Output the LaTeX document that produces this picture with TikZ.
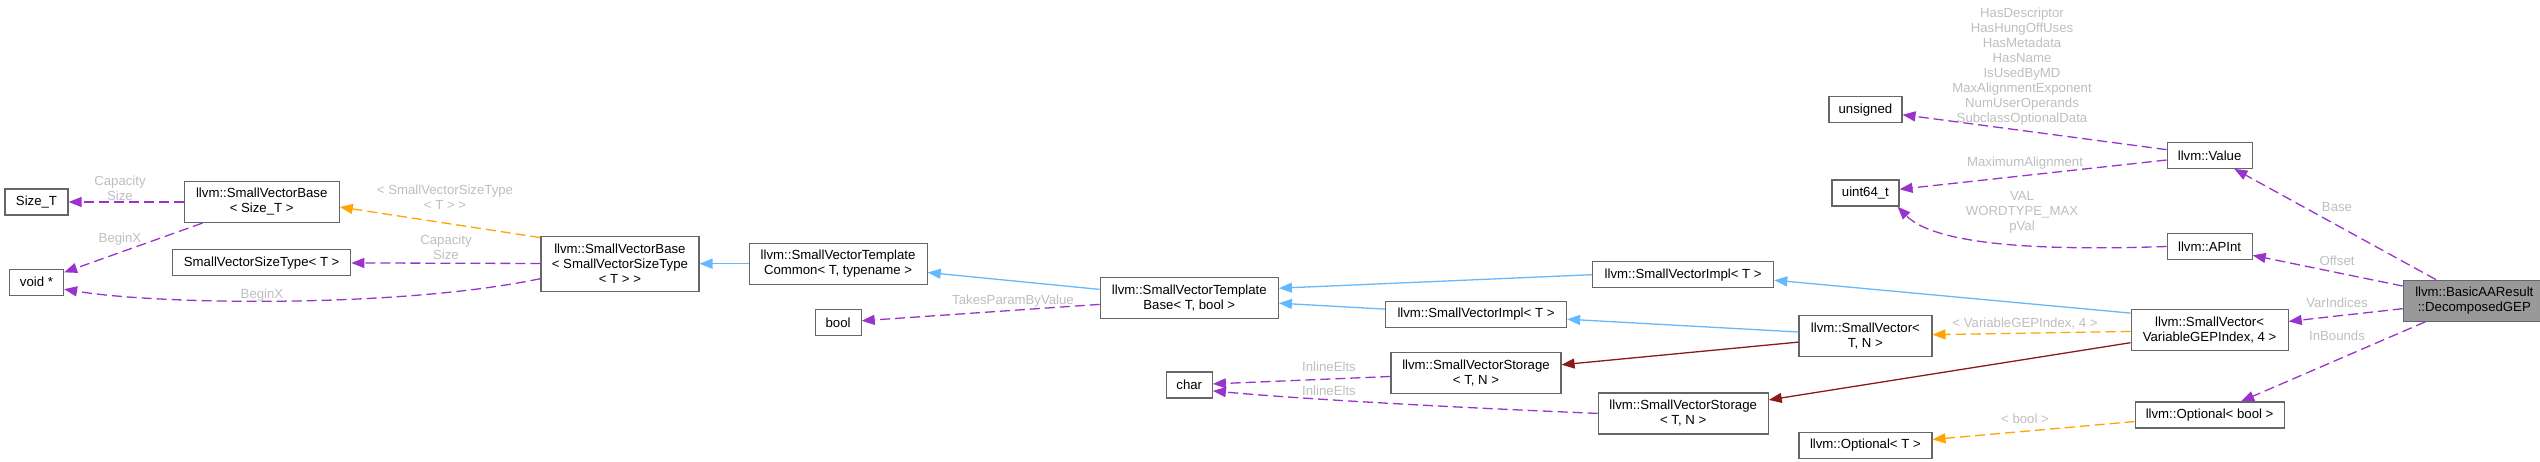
\documentclass[tikz,border=0pt]{standalone}
\usepackage{fontspec}
\setmainfont{Liberation Sans}
\usetikzlibrary{arrows.meta,positioning}
\definecolor{boxgray}{HTML}{666666}
\definecolor{lblgray}{HTML}{BEBEBE}
\definecolor{usepurple}{HTML}{9A32CD}
\definecolor{tplorange}{HTML}{FFA500}
\definecolor{pubblue}{HTML}{63B8FF}
\definecolor{privred}{HTML}{8B1A1A}
\begin{document}
\begin{tikzpicture}[
x=0.5pt,y=-0.5pt,
box/.style={draw=boxgray,line width=0.6pt,fill=white,align=center,inner sep=1pt,minimum height=13pt,font=\fontsize{6.6}{7.5}\selectfont},
two/.style={minimum height=20.5pt},
lbl/.style={text=lblgray,align=center,inner sep=0pt,font=\fontsize{6.6}{7.5}\selectfont},
usearr/.style={-{Triangle[length=6.5pt,width=5pt]},usepurple,dash pattern=on 5pt off 2.5pt,line width=0.65pt},
tplarr/.style={-{Triangle[length=6.5pt,width=5pt]},tplorange,dash pattern=on 5pt off 2.5pt,line width=0.65pt},
pubarr/.style={-{Triangle[length=6.5pt,width=5pt]},pubblue,line width=0.65pt},
privarr/.style={-{Triangle[length=6.5pt,width=5pt]},privred,line width=0.65pt}]
\useasboundingbox (0,0) rectangle (2540,461);
% left part: SmallVectorBase
\node[box,minimum width=31.5pt] (sizeT) at (36.5,202) {Size\_T};
\node[box,minimum width=27pt,below=26.5pt of sizeT] (voidp) {void *};
\node[box,two,minimum width=77.5pt,right=57.5pt of sizeT] (svbST) {llvm::SmallVectorBase\\< Size\_T >};
\node[box,minimum width=89pt,below=13pt of svbST] (svst) {SmallVectorSizeType< T >};
\node[box,minimum width=79pt,minimum height=27.5pt,right=94.5pt of svst,yshift=-0.5pt] (svbSVST) {llvm::SmallVectorBase\\< SmallVectorSizeType\\< T > >};
\node[box,two,minimum width=89pt,right=24.5pt of svbSVST] (svtc) {llvm::SmallVectorTemplate\\Common< T, typename >};
\node[box,minimum width=23pt,below=12pt of svtc] (bool) {bool};
\node[box,two,minimum width=89pt,right=86pt of svtc,yshift=-17.25pt] (svtb) {llvm::SmallVectorTemplate\\Base< T, bool >};
\node[box,minimum width=23pt,below=26pt of svtb] (char) {char};
% middle part: SmallVector
\node[box,minimum width=90.5pt,right=53pt of svtb,yshift=-8pt] (svimplB) {llvm::SmallVectorImpl< T >};
\node[box,two,minimum width=85pt,below=12pt of svimplB] (svsA) {llvm::SmallVectorStorage\\< T, N >};
\node[box,minimum width=90.5pt,right=12.5pt of svimplB,yshift=19.75pt] (svimplA) {llvm::SmallVectorImpl< T >};
\node[box,two,minimum width=85pt,below=52pt of svimplA] (svsB) {llvm::SmallVectorStorage\\< T, N >};
\node[box,two,minimum width=66.5pt,right=12pt of svimplA,yshift=-30.5pt] (svTN) {llvm::SmallVector<\\T, N >};
\node[box,minimum width=66.5pt,below=37.5pt of svTN] (optT) {llvm::Optional< T >};
\node[box,minimum width=33.5pt,above=54pt of svTN] (uint64) {uint64\_t};
\node[box,minimum width=36.5pt,above=28pt of uint64] (unsigned) {unsigned};
% right part: DecomposedGEP
\node[box,two,minimum width=78.5pt,right=99pt of svTN,yshift=2.75pt] (svVGI) {llvm::SmallVector<\\VariableGEPIndex, 4 >};
\node[box,minimum width=42.5pt,above=24.5pt of svVGI] (apint) {llvm::APInt};
\node[box,minimum width=42.5pt,above=32pt of apint] (value) {llvm::Value};
\node[box,minimum width=74.5pt,below=25pt of svVGI] (optB) {llvm::Optional< bool >};
\node[box,two,minimum width=71pt,fill=black!40,right=57pt of svVGI,yshift=14.75pt] (gep) {llvm::BasicAAResult\\::DecomposedGEP};
% edges
\draw[usearr] (svbST) -- (sizeT);
\draw[usearr] (svbST) -- (voidp);
\draw[tplarr] ([yshift=-1pt]svbSVST.north west) -- ([yshift=-2.5pt]svbST.east);
\draw[usearr] (svbSVST) -- (svst);
\draw[usearr] ([yshift=-7.5pt]svbSVST.west) .. controls (400,308) and (160,305) .. ([yshift=-3.5pt]voidp.east);
\draw[pubarr] (svtc) -- (svbSVST);
\draw[pubarr] (svtb) -- (svtc);
\draw[usearr] (svtb) -- (bool);
\draw[pubarr] (svimplA.west) -- ([yshift=5pt]svtb.east);
\draw[pubarr] (svimplB) -- (svtb);
\draw[pubarr] (svTN) -- (svimplB);
\draw[privarr] (svTN) -- (svsA);
\draw[usearr] (svsA) -- (char);
\draw[usearr] (svsB.west) .. controls (1420,406) and (1290,398) .. ([yshift=-3pt]char.east);
\draw[pubarr] ([yshift=-2pt]svVGI.north west) -- ([yshift=-2.75pt]svimplA.east);
\draw[tplarr] (svVGI) -- (svTN);
\draw[privarr] (svVGI) -- (svsB);
\draw[usearr] (value) -- (unsigned);
\draw[usearr] (value) -- (uint64);
\draw[usearr] (apint.west) .. controls (2010,252) and (1930,240) .. ([xshift=-1pt]uint64.south east);
\draw[usearr] (gep) -- (value);
\draw[usearr] (gep) -- (apint);
\draw[usearr] (gep) -- (svVGI);
\draw[usearr] (gep) -- (optB);
\draw[tplarr] (optB) -- (optT);
% edge labels
\node[lbl] (lcap1) at (120,188) {Capacity\\Size};
\node[lbl] (lbeg1) at (120,239) {BeginX};
\node[lbl] (lsvst) at (445,197) {< SmallVectorSizeType\\< T > >};
\node[lbl] (lcap2) at (446,247.5) {Capacity\\Size};
\node[lbl] (lbeg2) at (262,295) {BeginX};
\node[lbl] (ltake) at (1013,301) {TakesParamByValue};
\node[lbl] (linl1) at (1329,367) {InlineElts};
\node[lbl] (linl2) at (1329,391) {InlineElts};
\node[lbl] (lflags) at (2022,66.5) {HasDescriptor\\HasHungOffUses\\HasMetadata\\HasName\\IsUsedByMD\\MaxAlignmentExponent\\NumUserOperands\\SubclassOptionalData};
\node[lbl] (lmax) at (2025,163) {MaximumAlignment};
\node[lbl] (lval) at (2022,212) {VAL\\WORDTYPE\_MAX\\pVal};
\node[lbl] (lvgi) at (2025,324) {< VariableGEPIndex, 4 >};
\node[lbl] (lbool) at (2025,419) {< bool >};
\node[lbl] (lbase) at (2337,207) {Base};
\node[lbl] (loff) at (2337,261) {Offset};
\node[lbl] (lvar) at (2337,303) {VarIndices};
\node[lbl] (linb) at (2337,336) {InBounds};
\end{tikzpicture}
\end{document}
